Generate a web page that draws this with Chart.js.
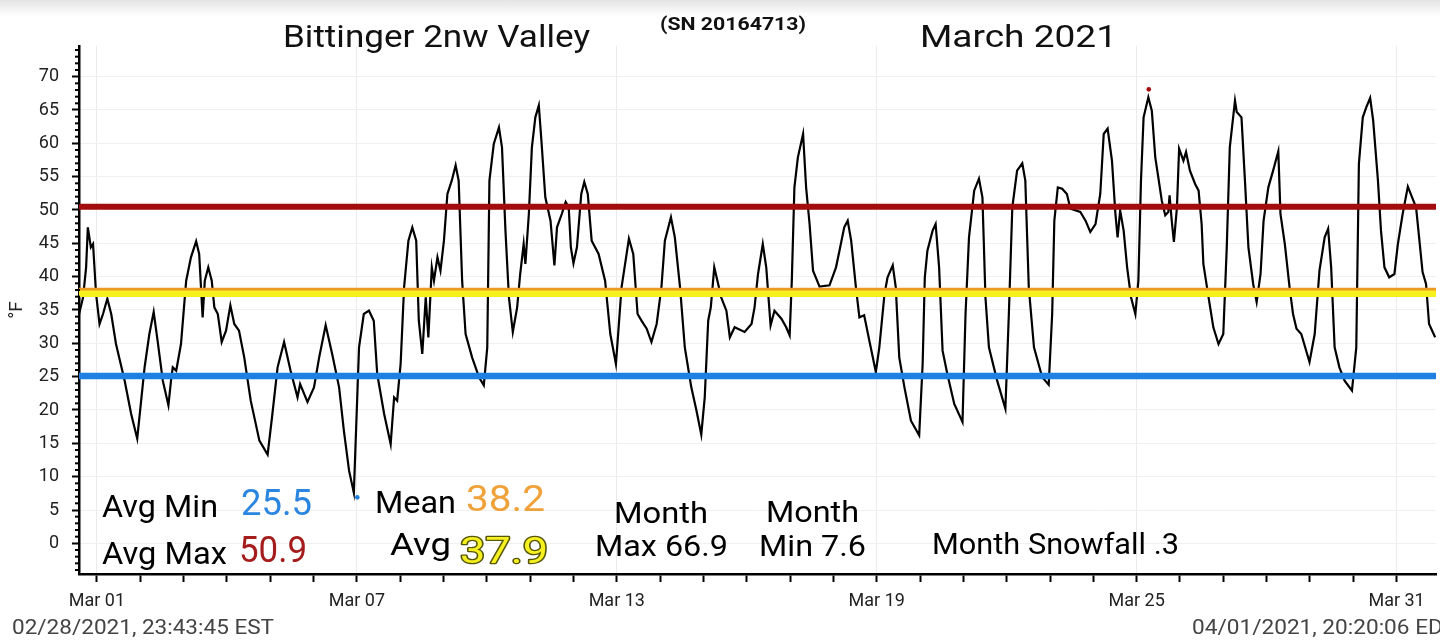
<!DOCTYPE html>
<html><head><meta charset="utf-8">
<script src="https://cdn.jsdelivr.net/npm/chart.js@4.4.1/dist/chart.umd.min.js"></script>
<style>
html,body{margin:0;padding:0;background:#fff;}
#wrap{position:relative;width:1440px;height:644px;background:linear-gradient(#e4e4e4 0px,#ffffff 16px);}
</style>
</head><body><div id="wrap"><canvas id="c"></canvas></div>
<script>
// ---- data ----
const tickDays = [1, 7, 13, 19, 25, 31];
const tickLabels = ['Mar 01', 'Mar 07', 'Mar 13', 'Mar 19', 'Mar 25', 'Mar 31'];
const yTickValues = [0, 5, 10, 15, 20, 25, 30, 35, 40, 45, 50, 55, 60, 65, 70];

const tempDays = [0.57,0.68,0.75,0.79,0.86,0.91,0.98,1.06,1.14,1.24,1.33,1.44,1.64,1.79,1.93,2.10,2.21,2.31,2.40,2.52,2.65,2.71,2.75,2.83,2.94,3.06,3.17,3.29,3.36,3.44,3.49,3.57,3.65,3.71,3.79,3.88,3.98,4.08,4.17,4.28,4.40,4.55,4.75,4.94,5.05,5.17,5.32,5.47,5.63,5.69,5.86,6.01,6.13,6.28,6.43,6.59,6.70,6.82,6.93,7.05,7.16,7.28,7.39,
7.47,7.63,7.78,7.86,7.93,8.01,8.09,8.19,8.28,8.37,8.43,8.51,8.59,8.65,8.73,8.78,8.86,8.93,9.01,9.09,9.19,9.28,9.35,9.43,9.51,9.66,9.82,9.93,10.01,10.06,10.16,10.28,10.35,10.43,10.51,10.60,10.70,10.77,10.85,10.89,10.97,11.04,11.12,11.20,11.26,11.35,11.47,11.56,11.62,11.73,11.82,11.89,11.94,12.00,12.08,12.18,12.25,12.33,12.42,12.58,12.73,12.85,12.98,13.11,13.28,13.38,13.48,13.57,13.69,13.80,13.92,14.03,
14.11,14.25,14.34,14.46,14.57,14.72,14.84,14.95,15.03,15.11,15.17,15.25,15.34,15.41,15.53,15.61,15.72,15.95,16.11,16.18,16.26,16.37,16.45,16.55,16.64,16.80,16.91,16.99,17.04,17.10,17.18,17.30,17.37,17.45,17.53,17.68,17.91,18.06,18.14,18.25,18.33,18.41,18.52,18.60,18.71,18.83,18.98,19.06,19.18,19.25,19.37,19.44,19.52,19.64,19.79,19.98,20.06,20.11,20.17,20.29,20.36,20.44,20.52,20.63,
20.79,20.98,21.05,21.13,21.25,21.36,21.44,21.51,21.59,21.78,21.97,22.05,22.13,22.24,22.36,22.43,22.51,22.63,22.82,22.97,23.05,23.10,23.18,23.28,23.39,23.47,23.70,23.82,23.93,24.05,24.16,24.24,24.33,24.43,24.51,24.56,24.62,24.70,24.78,24.87,24.97,25.04,25.10,25.16,25.27,25.35,25.43,25.50,25.58,25.66,25.73,25.76,25.81,25.86,25.93,25.98,26.08,26.14,26.23,26.35,
26.43,26.50,26.54,26.66,26.77,26.89,27.00,27.08,27.15,27.27,27.31,27.42,27.50,27.58,27.69,27.77,27.86,27.93,28.04,28.15,28.27,28.32,28.42,28.53,28.61,28.69,28.80,28.99,29.11,29.22,29.34,29.42,29.49,29.57,29.68,29.80,29.97,30.07,30.13,30.22,30.30,30.39,30.46,30.57,30.64,30.72,30.83,30.95,31.03,31.14,31.26,31.37,31.45,31.52,31.60,31.68,31.75,31.89];

const tempValues = [33.9,36.9,41.4,47.4,44.4,44.9,37.4,32.9,34.4,36.7,34.4,29.9,24.4,19.4,15.7,26.4,31.4,34.7,30.4,24.4,20.7,24.4,26.4,25.9,29.9,39.4,42.9,45.3,43.4,33.9,39.4,41.4,39.4,35.4,34.4,30.2,31.9,35.7,32.9,31.9,27.9,21.4,15.4,13.3,19.4,26.4,30.2,25.9,21.9,23.9,21.2,23.4,27.9,32.7,28.4,23.4,16.9,10.9,7.6,29.4,34.4,34.9,33.4,
25.4,19.4,14.9,21.9,21.4,26.9,38.4,45.4,47.4,45.4,33.4,28.4,36.9,30.9,41.4,39.4,42.9,40.9,45.4,52.4,54.4,56.7,54.4,39.4,31.4,27.9,24.9,23.7,29.4,54.4,59.9,62.4,59.4,46.9,36.9,31.7,35.4,40.4,44.9,41.9,49.4,59.4,63.9,65.7,60.4,51.9,48.4,41.7,47.4,49.4,51.2,50.4,44.4,42.0,44.4,52.4,54.2,52.4,45.4,43.4,39.4,31.4,26.9,38.4,45.7,43.4,34.4,33.4,32.2,30.2,32.9,38.4,
45.4,48.9,45.9,38.4,29.4,23.4,19.9,16.3,21.9,33.4,35.4,41.4,38.9,36.9,34.9,30.9,32.4,31.7,32.9,35.4,40.4,44.9,41.4,32.7,34.9,33.7,32.4,31.2,39.4,53.4,57.9,61.4,53.4,47.9,40.9,38.5,38.7,41.4,43.9,47.4,48.4,45.4,38.4,33.9,34.2,30.4,25.7,29.4,37.4,39.9,41.7,38.4,27.9,23.4,18.4,16.2,26.9,39.9,43.9,46.9,47.9,41.4,28.9,25.4,
20.9,18.2,34.4,45.9,52.9,54.7,51.9,36.9,29.4,24.4,20.2,34.4,50.4,55.9,57.0,54.4,38.4,29.4,24.9,23.8,34.4,48.4,53.4,53.2,52.4,50.2,49.7,48.4,46.7,47.9,52.4,61.4,62.2,57.4,49.4,45.9,49.9,46.9,41.4,36.9,34.4,39.4,54.4,63.9,66.9,64.9,57.9,54.9,51.4,49.2,49.7,52.2,48.4,45.2,50.4,59.2,57.4,58.7,55.9,53.9,
52.9,47.9,41.9,36.9,32.4,29.9,31.4,44.4,59.4,66.4,64.7,63.9,54.4,44.4,38.9,36.2,40.4,48.4,53.4,55.9,58.8,49.4,44.9,38.4,34.4,32.2,31.4,27.2,31.4,40.9,45.9,47.2,41.4,29.4,26.4,24.4,22.9,29.4,56.9,63.9,65.4,66.8,63.4,54.4,46.9,41.4,39.9,40.4,44.9,49.4,53.5,51.7,50.4,45.9,40.7,38.9,32.9,30.9];

// horizontal reference lines as drawn: avg max, mean, avg, avg min
const levelValues = [50.5, 37.9, 37.45, 25.1];
const levelColors = ['#a30c0c', '#ec9a22', '#f6f01c', '#1f80e4'];
const levelWidths = [6, 6, 6.5, 6.5];

// marker dots at month max / month min
const extremeDays = [25.28, 7.01];
const extremeValues = [68.1, 6.9];
const extremeColors = ['#a30c0c', '#1f80e4'];

// statistics shown as text
const avgMin = '25.5', avgMax = '50.9', meanVal = '38.2', avgVal = '37.9';
const monthMax = '66.9', monthMin = '7.6', snowfall = '.3';

const xMin = 0.586, xMax = 31.91, yMin = -4.6, yMax = 74.6;

const allDays = [];
for (let d = 1; d <= 31; d++) allDays.push(d);

const texts = [
  {t:'Bittinger 2nw Valley', x:283, y:47, size:31, w:307, color:'#111'},
  {t:'(SN 20164713)', x:660, y:30, size:18, w:146, color:'#111', weight:'bold'},
  {t:'March 2021', x:920, y:47, size:31, w:197, color:'#111'},
  {t:'Avg Min', x:102, y:517, size:31, w:116, color:'#000'},
  {t:avgMin, x:241, y:515, size:36, w:71, color:'#2a86e0'},
  {t:'Avg Max', x:102, y:564, size:31, w:125, color:'#000'},
  {t:avgMax, x:239, y:562, size:36, w:68, color:'#a51c1c'},
  {t:'Mean', x:375, y:513, size:31, w:81, color:'#000'},
  {t:meanVal, x:466, y:511, size:36, w:79, color:'#f0a23a'},
  {t:'Avg', x:390, y:555, size:31, w:61, color:'#000'},
  {t:avgVal, x:460, y:563, size:36, w:88, color:'#f6f020', stroke:'#55550a'},
  {t:'Month', x:614, y:523, size:30, w:94, color:'#000'},
  {t:'Max ' + monthMax, x:595, y:556, size:30, w:133, color:'#000'},
  {t:'Month', x:766, y:522, size:30, w:93, color:'#000'},
  {t:'Min ' + monthMin, x:759, y:556, size:30, w:107, color:'#000'},
  {t:'Month Snowfall ' + snowfall, x:932, y:554, size:30, w:247, color:'#000'},
  {t:'02/28/2021, 23:43:45 EST', x:12, y:634, size:21, w:262, color:'#444'},
  {t:'04/01/2021, 20:20:06 EDT', x:1192, y:634, size:21, w:264, color:'#444'}
];

const textPlugin = {
  id: 'texts',
  afterDraw(chart) {
    const ctx = chart.ctx;
    texts.forEach(o => {
      ctx.save();
      ctx.font = (o.weight || 'normal') + ' ' + o.size + 'px Roboto';
      ctx.textBaseline = 'alphabetic';
      ctx.textAlign = 'left';
      const m = ctx.measureText(o.t).width;
      const sx = o.w ? o.w / m : 1;
      ctx.translate(o.x, o.y);
      ctx.scale(sx, 1);
      if (o.stroke) {
        ctx.lineWidth = 2.6;
        ctx.lineJoin = 'round';
        ctx.strokeStyle = o.stroke;
        ctx.strokeText(o.t, 0, 0);
      }
      ctx.fillStyle = o.color;
      ctx.fillText(o.t, 0, 0);
      ctx.restore();
    });
  }
};

const minorTickPlugin = {
  id: 'minorTicks',
  afterDraw(chart) {
    const ctx = chart.ctx, ys = chart.scales.y, left = chart.chartArea.left;
    ctx.save();
    ctx.strokeStyle = '#000';
    ctx.lineWidth = 2;
    for (let v = Math.ceil(yMin); v <= Math.floor(yMax); v++) {
      if (v % 5 === 0) continue;
      const py = ys.getPixelForValue(v);
      ctx.beginPath();
      ctx.moveTo(left - 4, py);
      ctx.lineTo(left + 1, py);
      ctx.stroke();
    }
    ctx.restore();
  }
};

Chart.defaults.font.family = 'Roboto';

const datasets = [];
datasets.push({
  type: 'scatter',
  data: extremeDays.map((d, i) => ({x: d, y: extremeValues[i]})),
  pointRadius: 2.3,
  pointBackgroundColor: extremeColors,
  pointBorderWidth: 0,
  showLine: false,
  order: 0
});
levelValues.forEach((v, i) => {
  datasets.push({
    type: 'line',
    data: [{x: xMin, y: v}, {x: xMax, y: v}],
    borderColor: levelColors[i],
    borderWidth: levelWidths[i],
    pointRadius: 0,
    order: [1, 3, 2, 4][i]
  });
});
datasets.push({
  type: 'line',
  data: tempDays.map((d, i) => ({x: d, y: tempValues[i]})),
  borderColor: '#000',
  borderWidth: 2.2,
  pointRadius: 0,
  tension: 0,
  order: 5
});

new Chart(document.getElementById('c'), {
  type: 'line',
  data: {datasets},
  options: {
    responsive: true,
    maintainAspectRatio: false,
    animation: false,
    layout: {padding: {top: 46, left: 0, right: 0, bottom: 0}},
    plugins: {legend: {display: false}, tooltip: {enabled: false}, title: {display: false}},
    scales: {
      x: {
        type: 'linear', min: xMin, max: xMax,
        afterBuildTicks: s => { s.ticks = allDays.map(v => ({value: v})); },
        afterFit: s => { s.height = 70; },
        ticks: {
          autoSkip: false, maxRotation: 0, padding: 9,
          color: '#222', font: {size: 18},
          callback: v => { const i = tickDays.indexOf(v); return i >= 0 ? tickLabels[i] : ''; }
        },
        grid: {
          color: c => (c.tick && tickDays.includes(c.tick.value)) ? '#ebebeb' : 'rgba(0,0,0,0)',
          tickColor: '#000', tickLength: 8, tickWidth: 2, lineWidth: 1
        },
        border: {display: true, color: '#000', width: 2.5}
      },
      y: {
        type: 'linear', min: yMin, max: yMax,
        afterBuildTicks: s => { s.ticks = yTickValues.map(v => ({value: v})); },
        afterFit: s => { s.width = 79; },
        ticks: {color: '#222', font: {size: 18}, padding: 13},
        grid: {color: '#f0f0f0', tickColor: '#000', tickLength: 7, tickWidth: 2, lineWidth: 1},
        border: {display: true, color: '#000', width: 2.5},
        title: {display: true, text: '°F', color: '#222', font: {size: 19}, padding: {top: 6, bottom: 0}}
      }
    }
  },
  plugins: [minorTickPlugin, textPlugin]
});
</script>
</body></html>
